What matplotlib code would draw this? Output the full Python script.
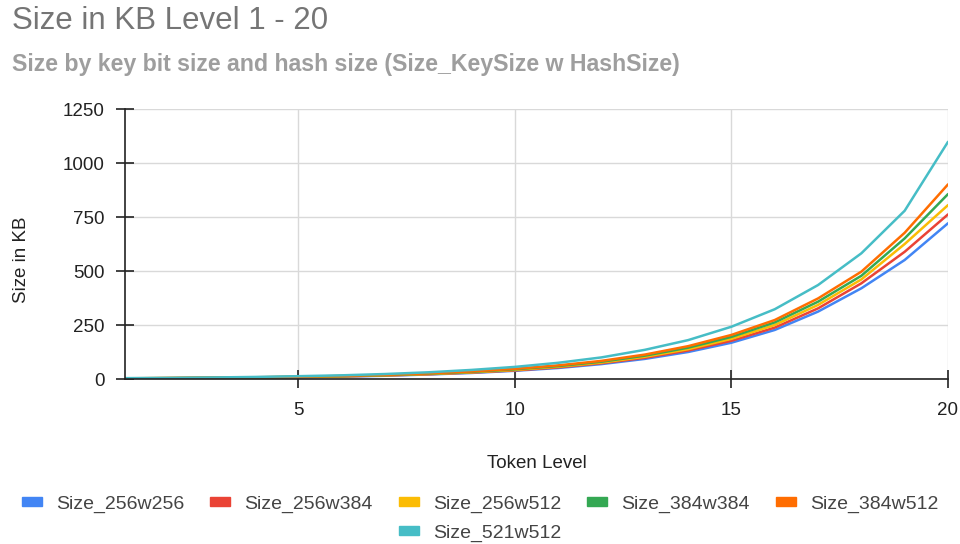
import matplotlib
matplotlib.use("Agg")
import matplotlib.pyplot as plt
from matplotlib.patches import Patch

plt.rcParams['font.family'] = ['Liberation Sans', 'DejaVu Sans']

levels = list(range(1, 21))

size_256w256 = [2.5, 3.3, 4.5, 6, 8, 11, 15, 21, 28, 38, 51, 69, 93, 125, 168, 227, 312, 420, 551, 721]
size_256w384 = [2.8, 3.8, 5, 6.8, 9, 12, 16.5, 22, 30, 40, 54, 73, 98, 132, 177, 238, 327, 443, 589, 762]
size_256w512 = [3, 4, 5.3, 7, 9.5, 12.8, 17, 23, 31, 42, 57, 76, 103, 138, 186, 250, 343, 461, 625, 805]
size_384w384 = [3.1, 4.2, 5.6, 7.5, 10, 13.5, 18, 25, 33, 45, 60, 80, 108, 145, 195, 262, 358, 478, 651, 856]
size_384w512 = [3.3, 4.5, 6, 8, 10.5, 14, 19, 26, 35, 47, 63, 84, 113, 152, 204, 273, 373, 497, 677, 901]
size_521w512 = [4, 5, 7, 9.5, 13, 17, 23, 31, 42, 56, 75, 100, 135, 180, 242, 323, 435, 582, 779, 1098]

series = [
    ("Size_256w256", size_256w256, "#4285f4"),
    ("Size_256w384", size_256w384, "#ea4335"),
    ("Size_256w512", size_256w512, "#fbbc04"),
    ("Size_384w384", size_384w384, "#34a853"),
    ("Size_384w512", size_384w512, "#ff6d01"),
    ("Size_521w512", size_521w512, "#46bdc6"),
]

fig = plt.figure(figsize=(9.6, 5.44), dpi=100)
ax = fig.add_axes([125 / 960, 1 - 379 / 544, (948 - 125) / 960, (379 - 109) / 544])

for name, vals, col in series:
    ax.plot(levels, vals, color=col, lw=1.8, solid_capstyle='round')

ax.set_xlim(1, 20)
ax.set_ylim(0, 1250)
ax.set_xticks([5, 10, 15, 20])
ax.set_yticks([0, 250, 500, 750, 1000, 1250])
ax.grid(True, color="#d9d9d9", lw=1)
ax.set_axisbelow(True)
for s in ["top", "right"]:
    ax.spines[s].set_visible(False)
for s in ["left", "bottom"]:
    ax.spines[s].set_color("#222222")
    ax.spines[s].set_linewidth(1.2)
ax.tick_params(axis='both', direction='inout', length=13, width=1.2, color="#222222",
               labelsize=13.5, labelcolor="#222222")
ax.tick_params(axis='y', pad=8)
ax.tick_params(axis='x', pad=10)

ax.set_xlabel("Token Level", fontsize=13.5, color="#222222")
ax.xaxis.label.set_va('center')
ax.xaxis.set_label_coords(0.5, -(463 - 379) / 270, transform=ax.transAxes)
ax.set_ylabel("Size in KB", fontsize=13.5, color="#222222")
ax.yaxis.label.set_va('center')
ax.yaxis.set_label_coords(-(125 - 21) / 823, (379 - 260) / 270, transform=ax.transAxes)

fig.text(12 / 960, 1 - 21 / 544, "Size in KB Level 1 - 20", fontsize=22.5, color="#757575",
         va='center', ha='left')
fig.text(12 / 960, 1 - 64 / 544, "Size by key bit size and hash size (Size_KeySize w HashSize)",
         fontsize=16.7, color="#9e9e9e", fontweight='bold', va='center', ha='left')

handles = [Patch(facecolor=c, edgecolor=c, label=n) for n, v, c in series]
leg_kw = dict(frameon=False, fontsize=14, handlelength=1.03, handleheight=0.3,
              handletextpad=0.72, columnspacing=1.34, labelcolor="#444444")
fig.legend(handles=handles[:5], ncol=5, loc='center', bbox_to_anchor=(0.5, 1 - 504 / 544), **leg_kw)
fig.legend(handles=handles[5:], ncol=1, loc='center', bbox_to_anchor=(0.5, 1 - 533 / 544), **leg_kw)

fig.savefig("out.png", dpi=100, facecolor="white")
